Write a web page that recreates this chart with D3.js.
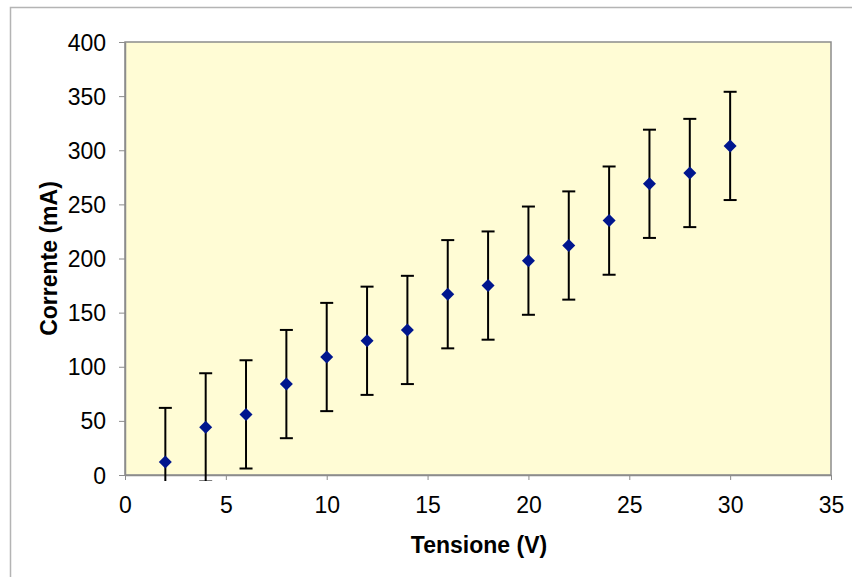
<!DOCTYPE html>
<html>
<head>
<meta charset="utf-8">
<script src="https://cdn.jsdelivr.net/npm/d3@7"></script>
<style>
  body { margin: 0; background: #fff; }
  text { font-family: "Liberation Sans", Arial, sans-serif; }
</style>
</head>
<body>
<div id="chart"></div>
<script>
const tensione = [2, 4, 6, 8, 10, 12, 14, 16, 18, 20, 22, 24, 26, 28, 30];
const corrente = [12, 44, 56, 84, 109, 124, 134, 167, 175, 198, 212, 235, 269, 279, 304];
const errore = [50, 50, 50, 50, 50, 50, 50, 50, 50, 50, 50, 50, 50, 50, 50];
const xTicks = [0, 5, 10, 15, 20, 25, 30, 35];
const yTicks = [0, 50, 100, 150, 200, 250, 300, 350, 400];

const W = 852, H = 577;
const margin = { top: 42, right: 21, bottom: 102, left: 125 },
  width = W - margin.left - margin.right,
  height = H - margin.top - margin.bottom;

const data = tensione.map((v, i) => ({ x: v, y: corrente[i], e: errore[i] }));

const root = d3.select("#chart")
  .append("svg")
  .attr("width", W)
  .attr("height", H);

// outer chart border (runs off the right/bottom edge)
root.append("rect")
  .attr("x", 10.5).attr("y", 7.5)
  .attr("width", W + 20).attr("height", H + 20)
  .attr("fill", "none")
  .attr("stroke", "#b4b4b4")
  .attr("stroke-width", 1.5);

const svg = root.append("g")
  .attr("transform", `translate(${margin.left}, ${margin.top})`);

const x = d3.scaleLinear().domain([0, 35]).range([0, width]);
const y = d3.scaleLinear().domain([0, 400]).range([height, 0]);

// plot area
svg.append("rect")
  .attr("width", width)
  .attr("height", height)
  .attr("fill", "#fffcd5")
  .attr("stroke", "#8c8c8c")
  .attr("stroke-width", 1.5);

svg.append("g")
  .attr("transform", `translate(0, ${height})`)
  .call(d3.axisBottom(x).tickValues(xTicks).tickSize(5).tickSizeOuter(0).tickPadding(17))
  .call(g => g.select(".domain").attr("stroke", "#8c8c8c").attr("stroke-width", 1.5))
  .call(g => g.selectAll(".tick line").attr("stroke", "#8c8c8c"))
  .call(g => g.selectAll("text").style("font-size", "23px").attr("fill", "#000")
    .attr("font-family", "Liberation Sans, Arial, sans-serif"));

svg.append("g")
  .call(d3.axisLeft(y).tickValues(yTicks).tickSize(6).tickSizeOuter(0).tickPadding(13))
  .call(g => g.select(".domain").attr("stroke", "#8c8c8c").attr("stroke-width", 1.5))
  .call(g => g.selectAll(".tick line").attr("stroke", "#8c8c8c"))
  .call(g => g.selectAll("text").style("font-size", "23px").attr("fill", "#000")
    .attr("dy", "0.35em")
    .attr("font-family", "Liberation Sans, Arial, sans-serif"));

// clip error bars just below the axis
root.append("defs").append("clipPath")
  .attr("id", "clip")
  .append("rect")
  .attr("x", 0).attr("y", 0)
  .attr("width", width).attr("height", height + 6);

const bars = svg.append("g").attr("clip-path", "url(#clip)");
const capW = 6.5;

bars.selectAll("line.err")
  .data(data)
  .enter()
  .append("line")
  .attr("class", "err")
  .attr("x1", d => x(d.x)).attr("x2", d => x(d.x))
  .attr("y1", d => y(d.y + d.e)).attr("y2", d => y(d.y - d.e))
  .attr("stroke", "#000").attr("stroke-width", 2);

bars.selectAll("line.capTop")
  .data(data)
  .enter()
  .append("line")
  .attr("x1", d => x(d.x) - capW).attr("x2", d => x(d.x) + capW)
  .attr("y1", d => y(d.y + d.e)).attr("y2", d => y(d.y + d.e))
  .attr("stroke", "#000").attr("stroke-width", 2);

bars.selectAll("line.capBot")
  .data(data)
  .enter()
  .append("line")
  .attr("x1", d => x(d.x) - capW).attr("x2", d => x(d.x) + capW)
  .attr("y1", d => y(d.y - d.e)).attr("y2", d => y(d.y - d.e))
  .attr("stroke", "#000").attr("stroke-width", 2);

// diamond markers
svg.selectAll("path.pt")
  .data(data)
  .enter()
  .append("path")
  .attr("class", "pt")
  .attr("d", "M0,-6.5L6.5,0L0,6.5L-6.5,0Z")
  .attr("transform", d => `translate(${x(d.x)}, ${y(d.y)})`)
  .attr("fill", "#00168e");

// axis titles
root.append("text")
  .attr("x", margin.left + width / 2 + 1)
  .attr("y", 553)
  .attr("text-anchor", "middle")
  .style("font-size", "23px")
  .style("font-weight", "bold")
  .text("Tensione (V)");

root.append("text")
  .attr("transform", `translate(57, ${margin.top + height / 2}) rotate(-90)`)
  .attr("text-anchor", "middle")
  .style("font-size", "23px")
  .style("font-weight", "bold")
  .text("Corrente (mA)");
</script>
</body>
</html>
